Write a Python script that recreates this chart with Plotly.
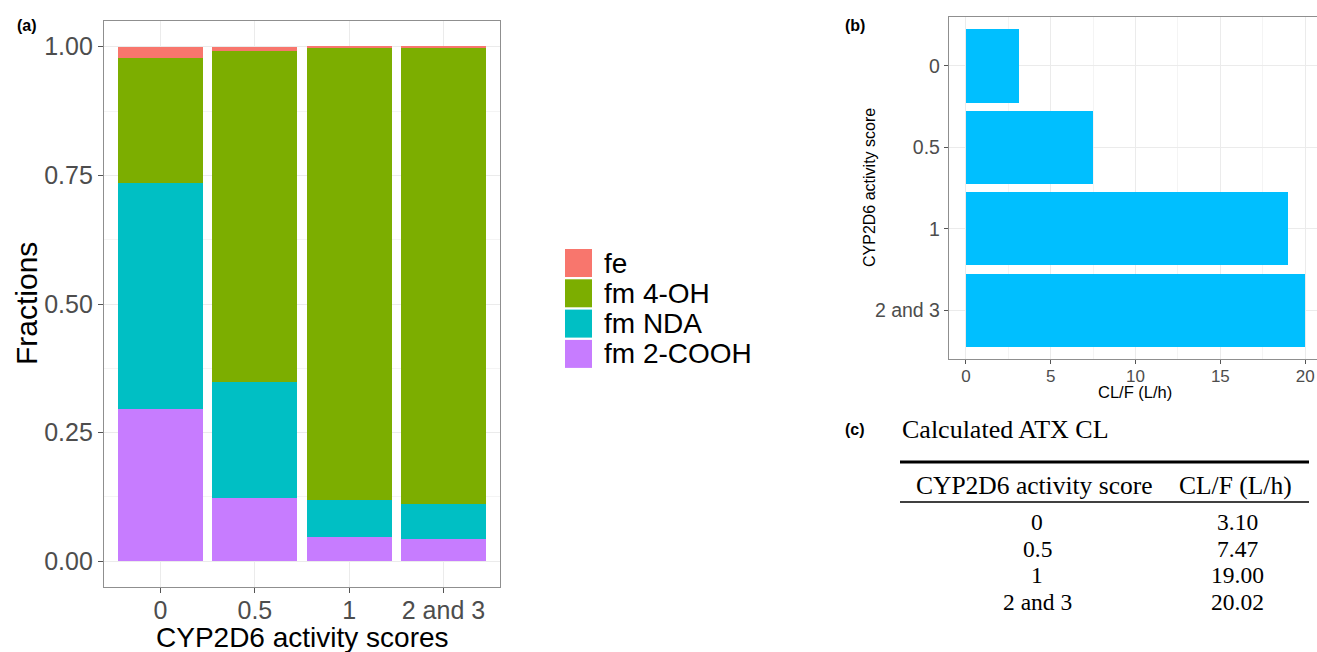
import plotly.graph_objects as go

# ---------------- data ----------------
categories = ["0", "0.5", "1", "2 and 3"]
fm_2cooh = [0.295, 0.123, 0.047, 0.043]
fm_nda = [0.441, 0.225, 0.073, 0.068]
fm_4oh = [0.243, 0.644, 0.879, 0.888]
fe = [0.021, 0.008, 0.001, 0.001]

series_names = ["fm 2-COOH", "fm NDA", "fm 4-OH", "fe"]
series_values = [fm_2cooh, fm_nda, fm_4oh, fe]
series_colors = ["#C77CFF", "#00BFC4", "#7CAE00", "#F8766D"]

cl_values = [3.10, 7.47, 19.00, 20.02]
table_header = ["CYP2D6 activity score", "CL/F (L/h)"]
table_title = "Calculated ATX CL"

# ---------------- layout helpers ----------------
W, H = 1317, 652
def xp(px):
    return px / W
def yp(py):
    return 1 - py / H

SANS = "Liberation Sans, Arial, sans-serif"
SERIF = "Liberation Serif, Times New Roman, serif"
GRID = "#EBEBEB"
MINOR = "#F4F4F4"
FRAME = "#8f8f8f"
TICKC = "#4D4D4D"

fig = go.Figure()

# panel (a): stacked fractions
for name, vals, col in zip(series_names, series_values, series_colors):
    fig.add_trace(go.Bar(x=categories, y=vals, name=name, marker=dict(color=col, line=dict(width=0)),
                         xaxis="x", yaxis="y", showlegend=False))

# panel (b): horizontal CL/F bars
fig.add_trace(go.Bar(y=categories, x=cl_values, orientation="h", marker=dict(color="#00BFFF", line=dict(width=0)),
                     xaxis="x2", yaxis="y2", showlegend=False))

ann = []
shapes = []

# panel labels
for lab, cx, cy in [("(a)", 27, 25), ("(b)", 855, 25), ("(c)", 855, 429)]:
    ann.append(dict(text="<b>%s</b>" % lab, x=xp(cx), y=yp(cy), xref="paper", yref="paper",
                    showarrow=False, xanchor="center", yanchor="middle",
                    font=dict(family=SANS, size=16, color="black")))

# axis titles
ann.append(dict(text="Fractions", x=xp(26), y=yp(304), xref="paper", yref="paper", textangle=-90,
                showarrow=False, xanchor="center", yanchor="middle", font=dict(family=SANS, size=30, color="black")))
ann.append(dict(text="CYP2D6 activity scores", x=xp(302), y=yp(637), xref="paper", yref="paper",
                showarrow=False, xanchor="center", yanchor="middle", font=dict(family=SANS, size=28, color="black")))
ann.append(dict(text="CYP2D6 activity score", x=xp(869), y=yp(188), xref="paper", yref="paper", textangle=-90,
                showarrow=False, xanchor="center", yanchor="middle", font=dict(family=SANS, size=16, color="black")))
ann.append(dict(text="CL/F (L/h)", x=xp(1135), y=yp(392), xref="paper", yref="paper",
                showarrow=False, xanchor="center", yanchor="middle", font=dict(family=SANS, size=16.5, color="black")))

# manual legend for panel (a) (top to bottom: fe, fm 4-OH, fm NDA, fm 2-COOH)
leg_order = list(range(len(series_names)))[::-1]
for i, k in enumerate(leg_order):
    top = 249 + i * 30.3
    shapes.append(dict(type="rect", xref="paper", yref="paper", x0=xp(565), x1=xp(592),
                       y0=yp(top + 28), y1=yp(top), fillcolor=series_colors[k], line=dict(width=0)))
    ann.append(dict(text=series_names[k], x=xp(602), y=yp(top + 14), xref="paper", yref="paper",
                    showarrow=False, xanchor="left", yanchor="middle", font=dict(family=SANS, size=28, color="black")))

# panel (c): table
ann.append(dict(text=table_title, x=xp(900), y=yp(429), xref="paper", yref="paper",
                showarrow=False, xanchor="left", yanchor="middle", font=dict(family=SERIF, size=26, color="black")))
shapes.append(dict(type="line", xref="paper", yref="paper", x0=xp(900), x1=xp(1309), y0=yp(462), y1=yp(462),
                   line=dict(color="black", width=3)))
shapes.append(dict(type="line", xref="paper", yref="paper", x0=xp(900), x1=xp(1309), y0=yp(502), y1=yp(502),
                   line=dict(color="black", width=1.3)))
col_x = [1034, 1235]
for j, h in enumerate(table_header):
    ann.append(dict(text=h, x=xp(col_x[j]), y=yp(485), xref="paper", yref="paper",
                    showarrow=False, xanchor="center", yanchor="middle", font=dict(family=SERIF, size=25.5, color="black")))
for i, (c, v) in enumerate(zip(categories, cl_values)):
    yy = 522 + i * 26.7
    ann.append(dict(text=c, x=xp(1037), y=yp(yy), xref="paper", yref="paper",
                    showarrow=False, xanchor="center", yanchor="middle", font=dict(family=SERIF, size=23.5, color="black")))
    ann.append(dict(text="%.2f" % v, x=xp(1237), y=yp(yy), xref="paper", yref="paper",
                    showarrow=False, xanchor="center", yanchor="middle", font=dict(family=SERIF, size=23.5, color="black")))

axis_common = dict(showline=True, linecolor=FRAME, linewidth=1.3, mirror=True, zeroline=False,
                   ticks="outside", tickcolor="#555555", tickwidth=1.2, gridcolor=GRID, gridwidth=1.2)

fig.update_layout(
    width=W, height=H, margin=dict(l=0, r=0, t=0, b=0),
    paper_bgcolor="white", plot_bgcolor="white",
    barmode="stack", bargap=0.1,
    showlegend=False,
    annotations=ann, shapes=shapes,
    xaxis=dict(domain=[xp(104), xp(500)], anchor="y", type="category", categoryorder="array",
               categoryarray=categories, range=[-0.6, 3.6], ticklen=5, ticklabelstandoff=-4,
               tickfont=dict(family=SANS, size=25, color=TICKC), showgrid=True, **axis_common),
    yaxis=dict(domain=[yp(587), yp(21)], anchor="x", range=[-0.05, 1.05], dtick=0.25, tick0=0,
               tickformat=".2f", ticklen=5, tickfont=dict(family=SANS, size=25, color=TICKC), showgrid=True,
               minor=dict(dtick=0.125, tick0=0, showgrid=True, gridcolor=MINOR, gridwidth=0.8, ticks=""),
               **axis_common),
    xaxis2=dict(domain=[xp(949), 1.0], anchor="y2", range=[-1.0, 20.7], dtick=5, tick0=0, ticklen=4,
                tickfont=dict(family=SANS, size=17, color=TICKC), showgrid=True, ticklabelstandoff=-3,
                minor=dict(dtick=2.5, tick0=0, showgrid=True, gridcolor=MINOR, gridwidth=0.8, ticks=""),
                **axis_common),
    yaxis2=dict(domain=[yp(359), yp(17)], anchor="x2", type="category", categoryorder="array",
                categoryarray=categories, range=[3.6, -0.6], ticklen=4,
                tickfont=dict(family=SANS, size=19.5, color=TICKC), showgrid=True, **axis_common),
)

fig.write_html("out.html")
